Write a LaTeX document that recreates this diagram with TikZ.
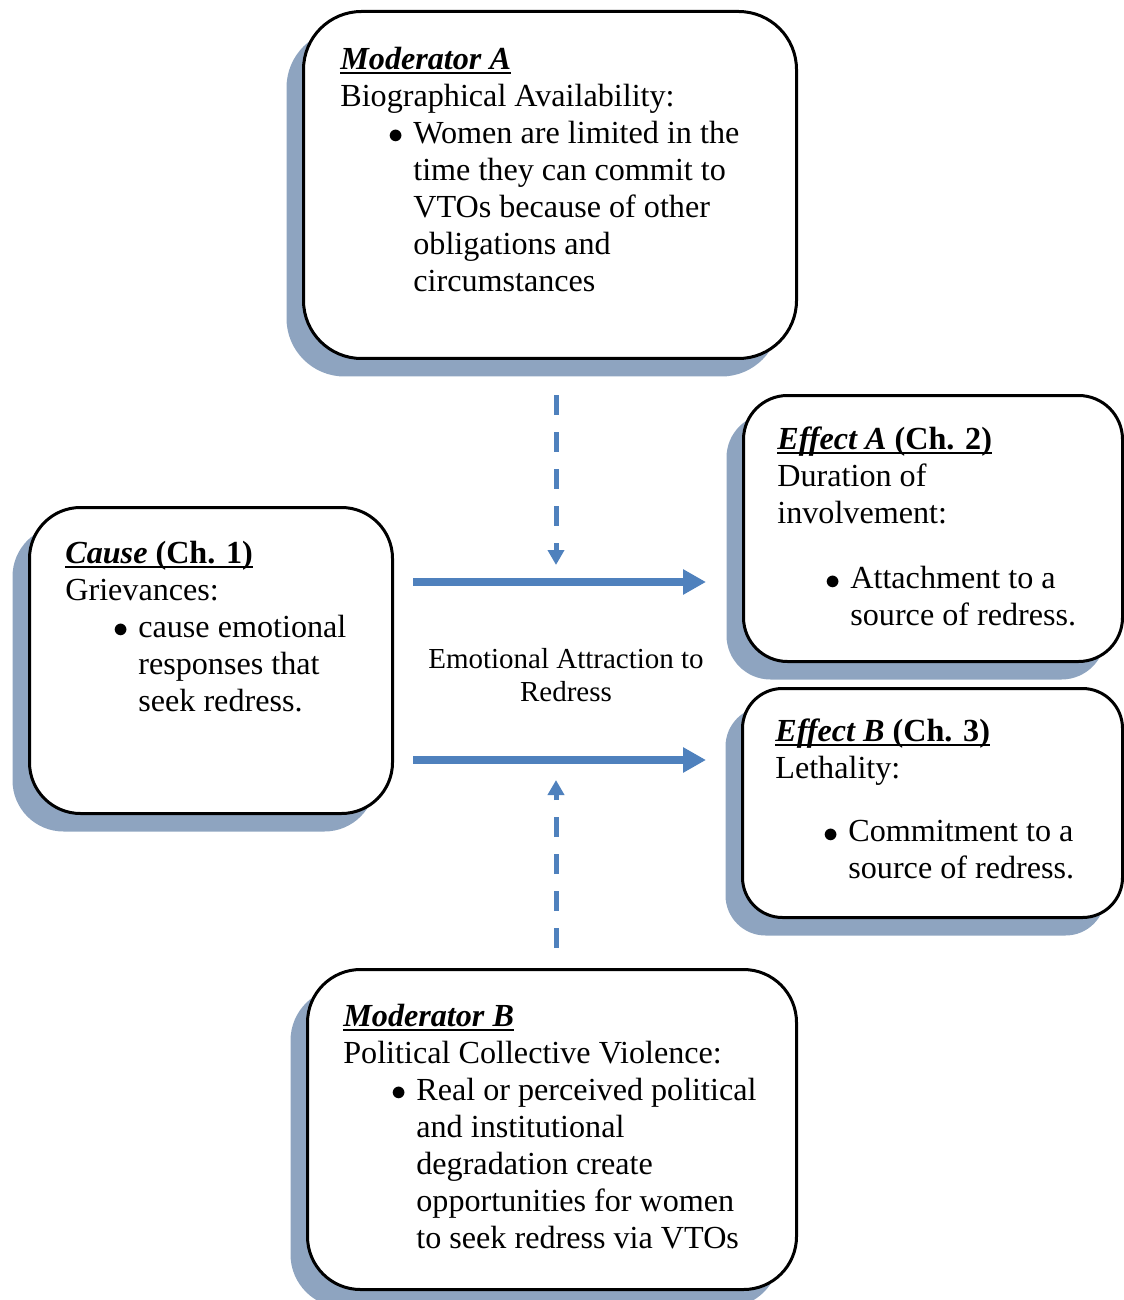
\documentclass[tikz,border=0pt]{standalone}
\usepackage{fontspec}
\setmainfont{Liberation Serif}
\usetikzlibrary{arrows.meta, positioning, shadows}
\definecolor{arrowblue}{RGB}{79,129,189}
\definecolor{shadowblue}{RGB}{142,164,192}
\newlength\pxu
\setlength\pxu{0.02cm}
% underlined heading with a heavier rule
\newcommand{\headline}[1]{\setbox0\hbox{#1}\rlap{\rule[-4.5\pxu]{\wd0}{2.5\pxu}}\box0}
\newcommand{\bulitem}{\hspace*{48\pxu}\makebox[25\pxu][l]{\raisebox{-0.5\pxu}{\fontsize{18}{18}\selectfont$\bullet$}}}
\newcommand{\bulcont}{\hspace*{73\pxu}}

\begin{document}
\begin{tikzpicture}[x=0.02cm, y=-0.02cm,
  panel/.style={draw, line width=3\pxu, fill=white, inner sep=0pt, anchor=north west,
    drop shadow={shadow xshift=-17\pxu, shadow yshift=-18\pxu, fill=shadowblue, opacity=1}},
  boxtext/.style={inner sep=0pt, align=left, font=\fontsize{18.3}{21}\selectfont},
  flow/.style={draw=arrowblue, line width=8\pxu, -{Triangle[length=0.46cm, width=0.48cm]}},
  modlink/.style={draw=arrowblue, line width=5\pxu, dash pattern=on 20\pxu off 17\pxu,
    -{Triangle[length=0.3cm, width=0.32cm]}}]
  \useasboundingbox (0,0) rectangle (1124,1300);

  % boxes
  \node[panel, rounded corners=58\pxu, minimum width=493\pxu, minimum height=347\pxu] (modA) at (302,10) {};
  \node[panel, rounded corners=51\pxu, minimum width=363\pxu, minimum height=306\pxu] (cause) at (28,506) {};
  \node[panel, rounded corners=44\pxu, minimum width=379\pxu, minimum height=266\pxu] (effA) at (742,394) {};
  \node[panel, rounded corners=40\pxu, minimum width=380\pxu, minimum height=229\pxu] (effB) at (741,687) {};
  \node[panel, rounded corners=53\pxu, minimum width=489\pxu, minimum height=320\pxu] (modB) at (306,968) {};

  % box texts
  \node[boxtext, below right=0.74cm and 0.76cm of modA.north west] (modAtext) {%
    \headline{\textbf{\textit{Moderator A}}}\\
    Biographical Availability:\\
    \bulitem Women are limited in the\\
    \bulcont time they can commit to\\
    \bulcont VTOs because of other\\
    \bulcont obligations and\\
    \bulcont circumstances};
  \node[boxtext, below right=0.70cm and 0.74cm of cause.north west] (causetext) {%
    \headline{\textbf{\textit{Cause} (Ch. 1)}}\\
    Grievances:\\
    \bulitem cause emotional\\
    \bulcont responses that\\
    \bulcont seek redress.};
  \node[boxtext, below right=0.66cm and 0.70cm of effA.north west] (effAtext) {%
    \headline{\textbf{\textit{Effect A} (Ch. 2)}}\\
    Duration of\\
    involvement:\\[28\pxu]
    \bulitem Attachment to a\\
    \bulcont source of redress.};
  \node[boxtext, below right=0.64cm and 0.68cm of effB.north west] (effBtext) {%
    \headline{\textbf{\textit{Effect B} (Ch. 3)}}\\
    Lethality:\\[26\pxu]
    \bulitem Commitment to a\\
    \bulcont source of redress.};
  \node[boxtext, below right=0.72cm and 0.74cm of modB.north west] (modBtext) {%
    \headline{\textbf{\textit{Moderator B}}}\\
    Political Collective Violence:\\
    \bulitem Real or perceived political\\
    \bulcont and institutional\\
    \bulcont degradation create\\
    \bulcont opportunities for women\\
    \bulcont to seek redress via VTOs};

  \node[inner sep=0pt, align=center, font=\fontsize{16.5}{19}\selectfont] (emo) at (566,675)
    {Emotional Attraction to\\Redress};

  % arrow ends
  \coordinate (causeOutA) at (413,582);
  \coordinate (effAin) at (706,582);
  \coordinate (causeOutB) at (413,760);
  \coordinate (effBin) at (706,760);
  \coordinate (modAout) at (556,395);
  \coordinate (modAin) at (556,565);
  \coordinate (modBout) at (556,948);
  \coordinate (modBin) at (556,780);

  \draw[flow] (causeOutA) -- (effAin);
  \draw[flow] (causeOutB) -- (effBin);
  \draw[modlink] (modAout) -- (modAin);
  \draw[modlink] (modBout) -- (modBin);
\end{tikzpicture}
\end{document}
